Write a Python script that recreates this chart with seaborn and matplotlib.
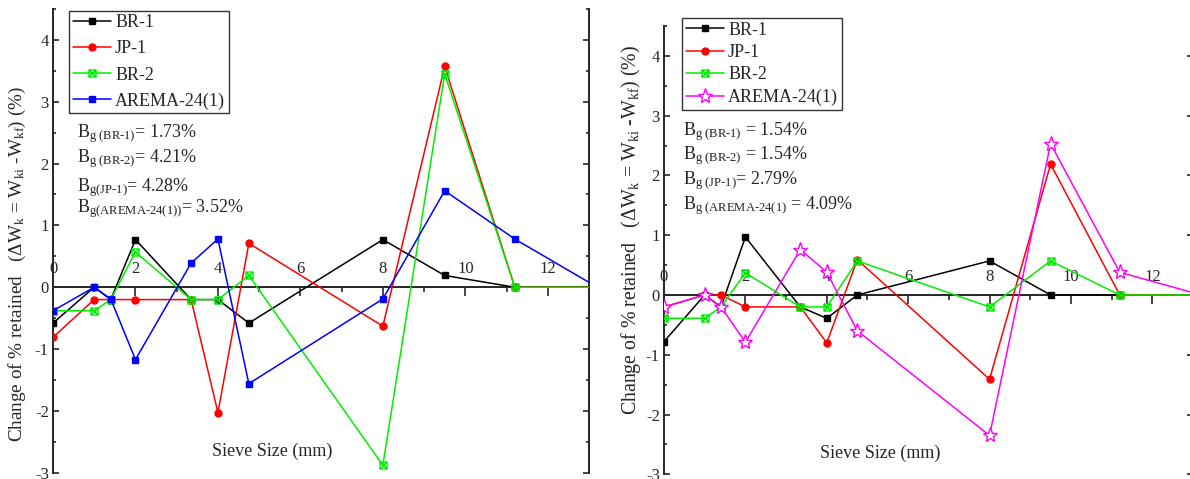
import pandas as pd
import seaborn as sns
import matplotlib.pyplot as plt
from matplotlib.path import Path
from matplotlib.ticker import MultipleLocator

# sieve sizes (mm)
sieve = [0, 1.0, 1.4, 2.0, 3.35, 4.0, 4.75, 8.0, 9.5, 11.2, 13.2]

series_names = ['BR-1', 'JP-1', 'BR-2', 'AREMA-24(1)']

# left panel
br1_a = [-0.58, 0, -0.2, 0.77, -0.2, -0.2, -0.58, 0.77, 0.19, 0, 0]
jp1_a = [-0.81, -0.2, -0.2, -0.2, -0.2, -2.03, 0.71, -0.63, 3.57, 0, 0]
br2_a = [-0.38, -0.38, -0.2, 0.57, -0.2, -0.2, 0.19, -2.88, 3.45, 0, 0]
arema_a = [-0.38, 0, -0.19, -1.17, 0.39, 0.78, -1.56, -0.19, 1.56, 0.78, 0]

# right panel
br1_b = [-0.78, 0, -0.2, 0.97, -0.2, -0.39, 0, 0.57, 0, 0, 0]
jp1_b = [-0.2, 0, 0, -0.2, -0.2, -0.8, 0.59, -1.41, 2.19, 0, 0]
br2_b = [-0.39, -0.39, -0.2, 0.37, -0.2, -0.2, 0.57, -0.2, 0.57, 0, 0]
arema_b = [-0.2, 0, -0.2, -0.79, 0.76, 0.38, -0.6, -2.35, 2.53, 0.38, 0]

H = '\u2010'  # plain hyphen inside mathtext (no operator spacing)
notes_a = [r'B$_{\rm g\ (BR' + H + r'1)}$= 1.73%', r'B$_{\rm g\ (BR' + H + r'2)}$= 4.21%',
           r'B$_{\rm g(JP' + H + r'1)}$= 4.28%', r'B$_{\rm g(AREMA' + H + r'24(1))}$= 3.52%']
notes_b = [r'B$_{\rm g\ (BR' + H + r'1)}$ = 1.54%', r'B$_{\rm g\ (BR' + H + r'2)}$ = 1.54%',
           r'B$_{\rm g\ (JP' + H + r'1)}$= 2.79%', r'B$_{\rm g\ (AREMA' + H + r'24(1)}$ = 4.09%']

sns.set_style('ticks')
plt.rcParams['font.family'] = ['Liberation Serif', 'DejaVu Serif']
plt.rcParams['mathtext.fontset'] = 'custom'
plt.rcParams['mathtext.rm'] = 'Liberation Serif'
plt.rcParams['mathtext.it'] = 'Liberation Serif:italic'
plt.rcParams['axes.unicode_minus'] = False

# square with a cross, like Origin's marker
sq_x = Path([(-1, -1), (1, -1), (1, 1), (-1, 1), (-1, -1), (-1, -1), (1, 1), (-1, 1), (1, -1)],
            [Path.MOVETO, Path.LINETO, Path.LINETO, Path.LINETO, Path.CLOSEPOLY,
             Path.MOVETO, Path.LINETO, Path.MOVETO, Path.LINETO])

styles_a = [
    dict(color='black', marker='s', markersize=4.5, markerfacecolor='black'),
    dict(color='red', marker='o', markersize=5, markerfacecolor='red'),
    dict(color='#00ee00', marker=sq_x, markersize=5, markerfacecolor='none'),
    dict(color='blue', marker='s', markersize=4.5, markerfacecolor='blue'),
]
styles_b = styles_a[:3] + [dict(color='magenta', marker='*', markersize=11, markerfacecolor='white')]

fig = plt.figure(figsize=(11.9, 4.79), dpi=100)
ax1 = fig.add_axes([53 / 1190, 6.3 / 479, 536 / 1190, 463.7 / 479])
ax2 = fig.add_axes([664 / 1190, 4.7 / 479, 529 / 1190, 448.3 / 479])

YLAB = r'Change of % retained   ($\Delta$W$_{\rm k}$ = W$_{\rm ki}$ -W$_{\rm kf}$) (%)'


def draw_panel(ax, values, styles, notes, note_x, note_y, leg_anchor, leg_space, ylab_xy, ylab_size):
    for name, vals, st in zip(series_names, values, styles):
        df = pd.DataFrame({'x': sieve, 'y': vals})
        sns.lineplot(data=df, x='x', y='y', ax=ax, label=name, sort=False,
                     linewidth=1.1, markeredgecolor=st['color'], markeredgewidth=1.0,
                     zorder=3, **st)
    ax.set_xlim(0, 13)
    ax.set_ylim(-3, 4.5)

    ax.spines['bottom'].set_position(('data', 0))
    ax.spines['top'].set_position(('data', 0))
    ax.spines['top'].set_visible(False)
    for s in ['left', 'right', 'bottom']:
        ax.spines[s].set_linewidth(1.4)

    ax.xaxis.set_major_locator(MultipleLocator(2))
    ax.xaxis.set_minor_locator(MultipleLocator(1))
    ax.yaxis.set_major_locator(MultipleLocator(1))
    ax.yaxis.set_minor_locator(MultipleLocator(0.5))
    ax.tick_params(axis='x', which='both', bottom=True, top=False, labelbottom=False,
                   labeltop=True, direction='out', pad=0.5, labelsize=12, width=1.2)
    ax.tick_params(axis='x', which='major', length=6.5)
    ax.tick_params(axis='x', which='minor', length=3.5)
    ax.tick_params(axis='y', which='both', left=True, right=True, direction='in',
                   labelsize=12, width=1.2, pad=3)
    ax.tick_params(axis='y', which='major', length=4.5)
    ax.tick_params(axis='y', which='minor', length=2.5)

    ax.set_xlabel('')
    ax.set_ylabel(YLAB, fontsize=ylab_size)
    ax.yaxis.set_label_coords(*ylab_xy)
    ax.text(0.409, 0.046, 'Sieve Size (mm)', transform=ax.transAxes,
            ha='center', va='center', fontsize=13)

    for t, yy in zip(notes, note_y):
        ax.text(note_x, yy, t, ha='left', va='center', fontsize=13)

    leg = ax.legend(loc='upper left', bbox_to_anchor=leg_anchor, borderaxespad=0,
                    fontsize=13, frameon=True, fancybox=False, handlelength=2.1,
                    handletextpad=0.25, labelspacing=leg_space, borderpad=0.2)
    leg.get_frame().set_edgecolor('black')
    leg.get_frame().set_linewidth(1.0)


draw_panel(ax1, [br1_a, jp1_a, br2_a, arema_a], styles_a, notes_a,
           0.58, [2.48, 2.08, 1.61, 1.26], (0.03, 0.996), 0.5, (-0.046, 0.45), 13.8)
draw_panel(ax2, [br1_b, jp1_b, br2_b, arema_b], styles_b, notes_b,
           0.47, [2.72, 2.33, 1.91, 1.49], (0.034, 1.018), 0.3, (-0.04, 0.545), 14.3)

fig.savefig('out.png', dpi=100)
